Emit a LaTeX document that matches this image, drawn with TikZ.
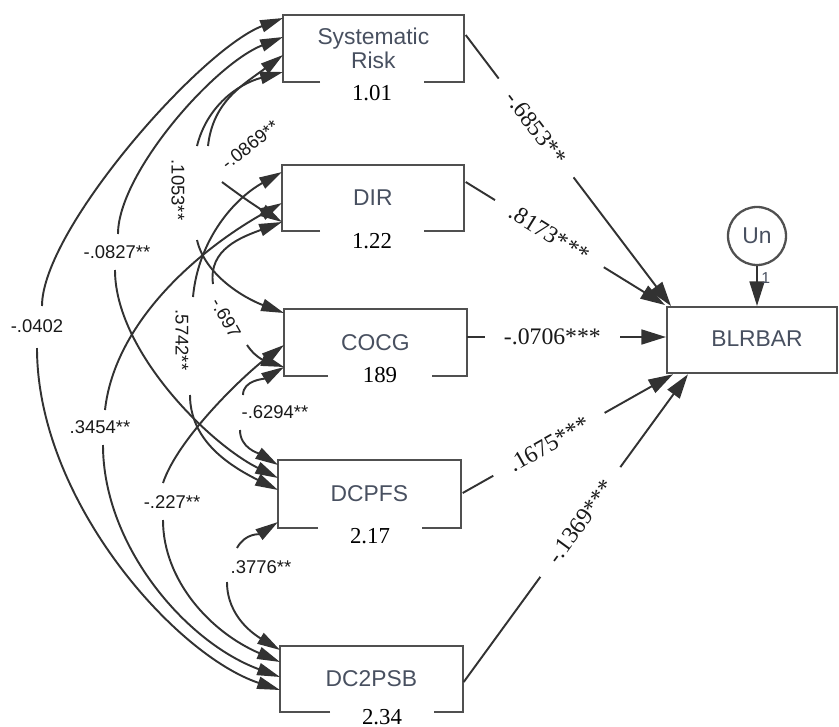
\documentclass[tikz,border=0pt]{standalone}
\usepackage{fontspec}
\setmainfont{Liberation Serif}
\setsansfont{Liberation Sans}
\usetikzlibrary{arrows.meta,calc}
\definecolor{ink}{RGB}{50,50,50}
\definecolor{frame}{RGB}{80,80,80}
\definecolor{boxtext}{RGB}{72,80,96}

% box outline with an opening in the bottom edge around the value below it
\newcommand\gapframe[2]{%
  \draw[frameline] ($(#2.center |- #1.south)+(-52,0)$) -- (#1.south west) -- (#1.north west)
    -- (#1.north east) -- (#1.south east) -- ($(#2.center |- #1.south)+(52,0)$);}

\begin{document}
\begin{tikzpicture}[x=0.02cm,y=0.02cm,
  var/.style={rectangle, inner sep=0pt, anchor=north west,
    font=\sffamily\fontsize{13}{13.5}\selectfont, text=boxtext, align=center},
  frameline/.style={draw=frame, line width=1.3pt, line join=miter},
  val/.style={font=\rmfamily\fontsize{13}{13}\selectfont, text=black, inner sep=1pt},
  pth/.style={draw=ink, line width=1.1pt, -{Triangle[length=14pt,width=8.5pt]}},
  plab/.style={font=\rmfamily\fontsize{13.5}{14}\selectfont, text=black!90, fill=white,
    inner xsep=11pt, inner ysep=1pt},
  cov/.style={draw=ink, line width=1.1pt, -{Triangle[length=13pt,width=7pt]}},
  covlab/.style={font=\sffamily\fontsize{10.5}{12}\selectfont, text=black!90, inner sep=1pt}]
\useasboundingbox (0,0) rectangle (839,-727);

% observed variables
\node[var, minimum width=180*0.02cm, minimum height=66*0.02cm] (sys) at (283,-15) {Systematic\\Risk};
\node[var, minimum width=181*0.02cm, minimum height=65*0.02cm] (dir) at (282,-165) {DIR};
\node[var, minimum width=182*0.02cm, minimum height=66*0.02cm] (cocg) at (284,-309) {COCG};
\node[var, minimum width=182*0.02cm, minimum height=67*0.02cm] (dcpfs) at (278,-460) {DCPFS};
\node[var, minimum width=182*0.02cm, minimum height=65*0.02cm] (dc2) at (280,-646) {DC2PSB};

% values under the boxes
\node[val] (sysv) at (372,-93) {1.01};
\node[val] (dirv) at (372,-241) {1.22};
\node[val] (cocgv) at (380,-375) {189};
\node[val] (dcpfsv) at (370,-536) {2.17};
\node[val] (dc2v) at (382,-717) {2.34};

\gapframe{sys}{sysv}
\gapframe{dir}{dirv}
\gapframe{cocg}{cocgv}
\gapframe{dcpfs}{dcpfsv}
\gapframe{dc2}{dc2v}

% dependent variable and its error term
\node[var, minimum width=170*0.02cm, minimum height=66*0.02cm, draw=frame, line width=1.3pt] (blr) at (666,-306) {};
\node[var, anchor=center] (blrname) at (757,-339) {BLRBAR};
\node[circle, draw=frame, line width=1.3pt, minimum size=58*0.02cm, inner sep=0pt,
  font=\sffamily\fontsize{13}{13}\selectfont, text=boxtext] (un) at (757,-236) {Un};
\draw[pth] (un) -- node[pos=0.3, right, inner sep=2pt, font=\sffamily\fontsize{9}{9}\selectfont, text=boxtext] {1} (un.south |- blr.north);

% regression paths
\draw[pth] ($(sys.north east)+(2,-20)$) -- node[plab, sloped, pos=0.343] {-.6853**} ($(blr.north west)+(5,0)$);
\draw[pth] ($(dir.north east)+(2,-17)$) -- node[plab, sloped, pos=0.42] {.8173***} ($(blr.north west)+(-1,1)$);
\draw[pth] ($(cocg.north east)+(0,-28)$) -- node[plab, pos=0.43] {-.0706***} ($(blr.north west)+(0,-31)$);
\draw[pth] ($(dcpfs.north east)+(2,-33)$) -- node[plab, sloped, pos=0.41] {.1675***} ($(blr.south west)+(7,0)$);
\draw[pth] ($(dc2.north east)+(1,-36)$) -- node[plab, sloped, pos=0.52] {-.1369***} ($(blr.south west)+(22,0)$);

% ends of the covariance arcs on either side of their labels
\coordinate (g1a) at (42,-306);   \coordinate (g1b) at (37,-348);
\coordinate (g2a) at (118,-234);  \coordinate (g2b) at (115,-270);
\coordinate (g3a) at (197,-146);  \coordinate (g3b) at (197,-240);
\coordinate (g4a) at (208,-146);  \coordinate (g4b) at (222,-182);
\coordinate (g5a) at (213,-284);  \coordinate (g5b) at (247,-345);
\coordinate (g6a) at (193,-297);  \coordinate (g6b) at (190,-395);
\coordinate (g7a) at (105,-410);  \coordinate (g7b) at (103,-445);
\coordinate (g8a) at (243,-395);  \coordinate (g8b) at (240,-430);
\coordinate (g9a) at (163,-483);  \coordinate (g9b) at (163,-520);
\coordinate (g10a) at (237,-548); \coordinate (g10b) at (227,-582);

% Systematic Risk - DC2PSB
\draw[cov] (g1a) .. controls +(0,76) and +(-83,-32) .. ($(sys.north west)+(0,-3)$);
\draw[cov] (g1b) .. controls +(0,-152) and +(-105,35) .. ($(dc2.north west)+(0,-44)$);
\node[covlab] at (37,-326) {-.0402};
% Systematic Risk - DCPFS
\draw[cov] (g2a) .. controls +(0,60) and +(-70,-28) .. ($(sys.north west)+(0,-22)$);
\draw[cov] (g2b) .. controls +(0,-80) and +(-70,35) .. ($(dcpfs.north west)+(0,-18)$);
\node[covlab] at (117,-252) {-.0827**};
% Systematic Risk - COCG
\draw[cov] (g3a) .. controls +(10,40) and +(-45,-12) .. ($(sys.north west)+(0,-57)$);
\draw[cov] (g3b) .. controls +(8,-35) and +(-40,15) .. ($(cocg.north west)+(0,-4)$);
\node[covlab, rotate=-90] at (178,-190) {.1053**};
% Systematic Risk - DIR
\draw[cov] (g4a) .. controls +(5,45) and +(-40,-30) .. ($(sys.north west)+(0,-40)$);
\draw[cov] (g4b) .. controls +(20,-15) and +(-25,15) .. ($(dir.north west)+(0,-57)$);
\node[covlab, rotate=38] at (250,-145) {-.0869**};
% DIR - COCG
\draw[cov] (g5a) .. controls +(-5,35) and +(-40,-15) .. ($(dir.north west)+(0,-57)$);
\draw[cov] (g5b) .. controls +(10,-15) and +(-15,5) .. ($(cocg.north west)+(0,-58)$);
\node[covlab, rotate=-61] at (226,-318) {-.697};
% DIR - DCPFS
\draw[cov] (g6a) .. controls +(5,55) and +(-50,-28) .. ($(dir.north west)+(0,-7)$);
\draw[cov] (g6b) .. controls +(0,-45) and +(-50,25) .. ($(dcpfs.north west)+(0,-30)$);
\node[covlab, rotate=-90] at (182,-340) {.5742**};
% DIR - DC2PSB
\draw[cov] (g7a) .. controls +(10,90) and +(-80,-45) .. ($(dir.north west)+(0,-38)$);
\draw[cov] (g7b) .. controls +(0,-100) and +(-95,35) .. ($(dc2.north west)+(0,-31)$);
\node[covlab] at (100,-427) {.3454**};
% COCG - DCPFS
\draw[cov] (g8a) .. controls +(0,15) and +(-20,-12) .. ($(cocg.north west)+(0,-58)$);
\draw[cov] (g8b) .. controls +(0,-18) and +(-20,12) .. ($(dcpfs.north west)+(0,-5)$);
\node[covlab] at (275,-412) {-.6294**};
% COCG - DC2PSB
\draw[cov] (g9a) .. controls +(15,45) and +(-40,-30) .. ($(cocg.north west)+(0,-36)$);
\draw[cov] (g9b) .. controls +(0,-60) and +(-70,30) .. ($(dc2.north west)+(0,-16)$);
\node[covlab] at (172,-502) {-.227**};
% DCPFS - DC2PSB
\draw[cov] (g10a) .. controls +(8,15) and +(-18,-12) .. ($(dcpfs.north west)+(0,-62)$);
\draw[cov] (g10b) .. controls +(0,-35) and +(-25,15) .. ($(dc2.north west)+(0,-4)$);
\node[covlab] at (261,-567) {.3776**};
\end{tikzpicture}
\end{document}
